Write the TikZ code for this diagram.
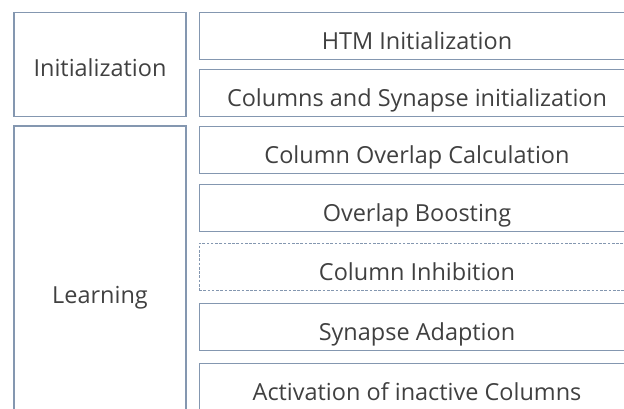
\documentclass[tikz,border=0pt]{standalone}
\usepackage{fontspec}
\setmainfont{Open Sans}
\definecolor{frame}{HTML}{8497B0}
\definecolor{ink}{HTML}{404040}
\begin{document}
\begin{tikzpicture}[
      x=0.75pt, y=-0.75pt,
      every node/.style={font=\fontsize{17.6}{21}\selectfont, text=ink},
      phase/.style={rectangle, draw=frame, line width=0.8pt, minimum width=129pt, inner sep=0pt, text height=19pt, text depth=1pt},
      stepbox/.style={rectangle, draw=frame, line width=0.75pt, minimum width=327pt, minimum height=35.25pt, inner sep=0pt, text height=21pt, text depth=0.5pt},
      dashedbox/.style={stepbox, dash pattern=on 2pt off 1.2pt}
    ]
    \clip (0,0) rectangle (624,408);

    \node[phase, minimum height=78pt] (init) at (100,64.5) {Initialization};
    \node[phase, minimum height=247.5pt] (learn) at (100,291) {Learning};

    \node[stepbox] (htm) at (417,35.5) {HTM Initialization};
    \node[stepbox] (colsyn) at (417,93) {Columns and Synapse initialization};

    \node[stepbox] (overlap) at (417,149.5) {Column Overlap Calculation};
    \node[stepbox] (boost) at (417,207.5) {Overlap Boosting};
    \node[dashedbox] (inhib) at (417,266.5) {Column Inhibition};
    \node[stepbox] (adapt) at (417,326.5) {Synapse Adaption};
    \node[stepbox] (activ) at (417,386.5) {Activation of inactive Columns};

  \end{tikzpicture}
\end{document}
